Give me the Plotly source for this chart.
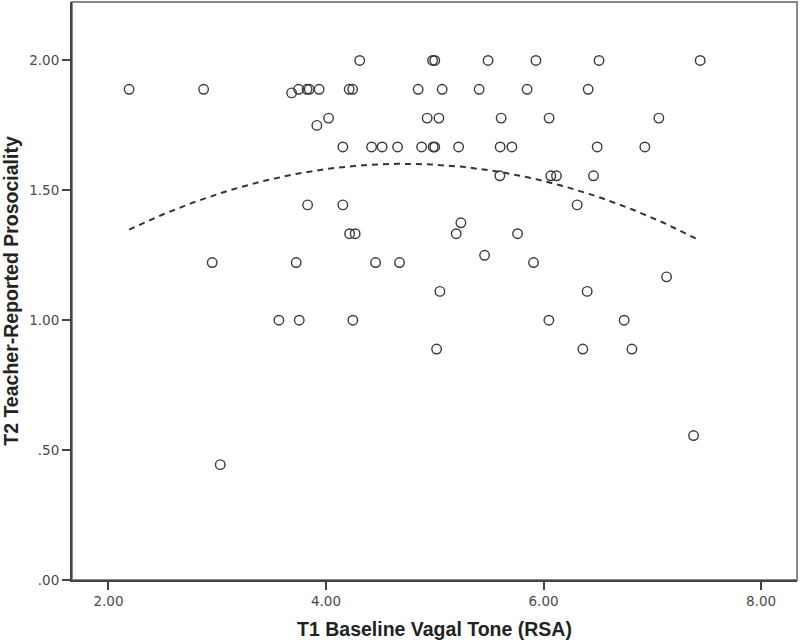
import numpy as np
import plotly.graph_objects as go

# T1 baseline vagal tone (RSA) and T2 teacher-reported prosociality, one entry per child
rsa = [
    4.31, 4.98, 5.00, 5.49, 5.93, 6.51, 7.44,
    2.19, 2.875, 3.748, 3.826, 3.846, 3.937, 4.213, 4.245, 4.847, 5.068, 5.408, 5.849, 6.410,
    3.684,
    4.024, 4.930, 5.038, 5.610, 6.051, 7.060,
    3.916,
    4.155, 4.419, 4.516, 4.658, 4.879, 4.985, 5.000, 5.219, 5.601, 5.709, 6.493, 6.931,
    5.598, 6.067, 6.119, 6.459,
    3.831, 4.155, 6.309,
    4.217, 4.268, 5.197, 5.761,
    5.240,
    2.954, 3.726, 4.456, 4.676, 5.908,
    5.458,
    7.131,
    5.047, 6.401,
    3.567, 3.754, 4.247, 6.049, 6.741,
    5.017, 6.361, 6.812,
    7.379,
    3.028,
]
prosociality = [
    2.0, 2.0, 2.0, 2.0, 2.0, 2.0, 2.0,
    1.889, 1.889, 1.889, 1.889, 1.889, 1.889, 1.889, 1.889, 1.889, 1.889, 1.889, 1.889, 1.889,
    1.875,
    1.778, 1.778, 1.778, 1.778, 1.778, 1.778,
    1.75,
    1.667, 1.667, 1.667, 1.667, 1.667, 1.667, 1.667, 1.667, 1.667, 1.667, 1.667, 1.667,
    1.556, 1.556, 1.556, 1.556,
    1.444, 1.444, 1.444,
    1.333, 1.333, 1.333, 1.333,
    1.375,
    1.222, 1.222, 1.222, 1.222, 1.222,
    1.25,
    1.167,
    1.111, 1.111,
    1.0, 1.0, 1.0, 1.0, 1.0,
    0.889, 0.889, 0.889,
    0.556,
    0.444,
]

x_ticks = [2, 4, 6, 8]
x_labels = ["2.00", "4.00", "6.00", "8.00"]
y_ticks = [0, 0.5, 1.0, 1.5, 2.0]
y_labels = [".00", ".50", "1.00", "1.50", "2.00"]

# quadratic fit line, as in the SPSS output
coef = np.polyfit(rsa, prosociality, 2)
fit_x = np.linspace(min(rsa), max(rsa), 120)
fit_y = np.polyval(coef, fit_x)

fig = go.Figure()
fig.add_trace(
    go.Scatter(
        x=rsa,
        y=prosociality,
        mode="markers",
        marker=dict(symbol="circle-open", size=9.5, color="#3a3a3a", line=dict(width=1.4)),
        showlegend=False,
    )
)
fig.add_trace(
    go.Scatter(
        x=fit_x,
        y=fit_y,
        mode="lines",
        line=dict(color="#333333", width=2, dash="6px,5px"),
        showlegend=False,
    )
)

axis_common = dict(
    showgrid=False,
    zeroline=False,
    showline=True,
    linecolor="#444444",
    linewidth=2,
    ticks="outside",
    ticklen=8,
    tickwidth=2,
    tickcolor="#444444",
    tickfont=dict(family="DejaVu Sans", size=13.5, color="#4a4a4a"),
)
title_font = dict(family="Liberation Sans", size=19.5, color="#222222")

fig.update_xaxes(
    range=[1.665, 8.33],
    tickvals=x_ticks,
    ticktext=x_labels,
    title=dict(text="<b>T1 Baseline Vagal Tone (RSA)</b>", font=title_font, standoff=14),
    **axis_common,
)
fig.update_yaxes(
    range=[0, 2.225],
    tickvals=y_ticks,
    ticktext=y_labels,
    title=dict(text="<b>T2 Teacher-Reported Prosociality</b>", font=title_font, standoff=10),
    **axis_common,
)

# light frame around the plot area
fig.add_shape(
    type="rect", xref="paper", yref="paper", x0=0, x1=1, y0=0, y1=1,
    line=dict(color="#888888", width=2), layer="below",
)

fig.update_layout(
    width=800,
    height=641,
    margin=dict(l=72, r=3, t=2, b=61),
    plot_bgcolor="white",
    paper_bgcolor="white",
)

# drop the default page margin so the figure sits at the window's corner
fig.write_html(
    "out.html",
    config={"displayModeBar": False},
    post_script="document.body.style.margin='0px';",
)
